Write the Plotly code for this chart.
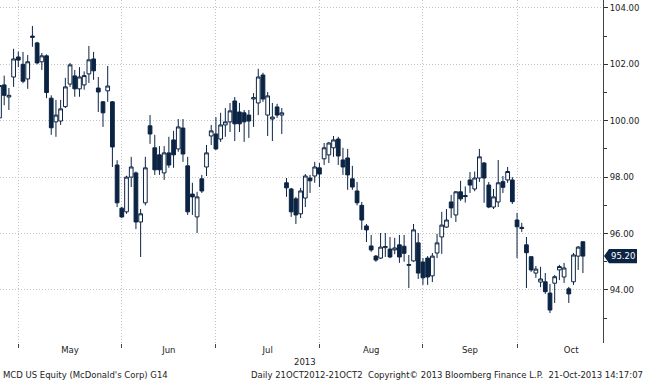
import numpy as np
import pandas as pd
import plotly.graph_objects as go

# ---------------- data ----------------
holidays = ["2013-05-27", "2013-07-04", "2013-09-02"]
calendar = pd.bdate_range("2013-04-25", "2013-10-31")
calendar = calendar[~calendar.isin(pd.to_datetime(holidays))]
dates = calendar[calendar <= "2013-10-21"]

opens = [100.1, 101.27, 100.84, 101.55, 102.26, 102.0, 101.48, 103.0, 102.76, 102.09,
         102.3, 100.8, 99.96, 99.99, 100.5, 101.3, 101.59, 101.13, 101.27, 101.66,
         102.19, 101.16, 100.67, 101.06, 100.67, 98.43, 96.9, 96.77, 98.0, 98.15,
         96.41, 97.09, 99.82, 99.04, 98.79, 98.15, 98.86, 99.32, 99.0, 99.74,
         98.4, 97.4, 96.59, 97.94, 98.36, 99.46, 99.53, 99.35, 99.85, 99.96,
         100.7, 100.31, 100.28, 100.2, 100.77, 100.63, 101.62, 100.2, 100.06, 100.49,
         100.2, 97.8, 97.58, 97.23, 96.7, 97.26, 97.97, 98.04, 98.33, 98.65,
         98.79, 99.04, 99.35, 98.61, 98.68, 97.94, 97.51, 97.0, 96.27, 95.56,
         95.2, 95.13, 95.5, 95.45, 95.42, 95.6, 95.55, 94.9, 95.03, 95.67,
         94.99, 95.13, 94.5, 95.31, 95.88, 96.23, 97.12, 96.66, 97.48, 97.35,
         97.9, 97.58, 97.97, 98.5, 97.72, 96.94, 97.12, 97.84, 97.9, 97.9,
         96.48, 96.22, 95.6, 95.18, 94.6, 94.28, 94.29, 93.89, 94.24, 94.71,
         94.46, 94.04, 94.29, 95.2, 95.71]
highs = [101.3, 101.6, 101.16, 102.55, 102.45, 102.44, 102.33, 103.36, 102.8, 102.4,
         102.35, 100.9, 100.74, 100.74, 101.52, 102.05, 101.8, 101.9, 101.75, 102.65,
         102.44, 101.55, 100.7, 101.94, 100.7, 98.6, 96.95, 98.05, 98.72, 98.2,
         96.87, 98.72, 100.2, 99.5, 99.1, 99.1, 99.43, 99.64, 100.06, 100.06,
         98.72, 97.8, 97.48, 98.08, 99.14, 99.85, 100.13, 100.28, 100.45, 100.63,
         100.84, 100.63, 100.38, 100.38, 100.98, 101.84, 101.7, 101.02, 100.63, 100.6,
         100.45, 97.97, 97.62, 97.3, 97.62, 98.11, 98.08, 98.54, 98.5, 99.21,
         99.25, 99.46, 99.43, 99.04, 99.0, 98.4, 97.83, 97.12, 96.34, 95.95,
         95.24, 96.02, 96.02, 95.88, 95.85, 95.95, 95.95, 95.24, 96.34, 96.02,
         95.13, 95.2, 95.31, 95.99, 96.77, 96.87, 97.37, 97.5, 97.87, 97.67,
         98.18, 98.2, 99.0, 98.54, 97.83, 97.58, 98.61, 98.04, 98.36, 98.0,
         96.73, 96.38, 95.88, 95.2, 94.85, 94.82, 94.6, 94.21, 94.53, 94.89,
         94.96, 94.11, 95.31, 95.56, 95.72]
lows = [100.0, 100.55, 100.38, 101.2, 101.9, 101.33, 101.13, 102.62, 102.0, 101.8,
        100.8, 99.5, 99.43, 99.85, 100.45, 101.2, 100.85, 100.85, 101.1, 101.34,
        101.45, 100.31, 99.78, 100.67, 98.36, 96.94, 96.55, 96.7, 97.65, 96.16,
        95.17, 97.0, 99.18, 98.08, 98.08, 97.9, 98.33, 98.33, 98.9, 98.54,
        96.66, 96.66, 96.02, 97.44, 98.04, 99.14, 98.96, 99.25, 99.43, 99.6,
        99.28, 99.6, 99.25, 99.39, 99.78, 100.2, 100.67, 99.46, 99.28, 100.1,
        99.53, 97.3, 96.59, 96.34, 96.55, 96.94, 97.44, 97.8, 97.65, 98.43,
        98.5, 98.72, 98.43, 98.08, 97.55, 97.55, 97.0, 96.13, 95.7, 95.35,
        95.0, 95.1, 95.17, 95.13, 95.27, 94.96, 95.0, 94.07, 95.0, 94.39,
        94.18, 94.18, 94.28, 95.13, 95.28, 96.2, 96.55, 96.41, 97.16, 97.1,
        97.44, 97.5, 97.83, 97.09, 96.9, 96.87, 96.94, 97.44, 97.8, 97.05,
        95.13, 96.06, 94.07, 94.64, 94.43, 94.1, 93.86, 93.18, 93.54, 94.35,
        94.25, 93.54, 94.18, 94.71, 94.6]
closes = [101.25, 100.9, 100.9, 102.19, 102.15, 101.4, 102.09, 102.96, 102.05, 102.3,
          101.0, 99.75, 100.2, 100.42, 101.2, 101.98, 101.13, 101.55, 101.6, 102.16,
          101.77, 101.02, 100.28, 101.23, 99.07, 97.09, 96.59, 98.0, 98.36, 96.41,
          96.7, 98.33, 99.53, 98.26, 98.26, 98.86, 98.43, 98.79, 99.78, 98.82,
          96.77, 97.3, 97.3, 97.51, 98.86, 99.64, 99.0, 99.85, 99.96, 100.35,
          99.89, 99.89, 99.96, 99.99, 100.82, 101.55, 100.77, 100.88, 100.13, 100.2,
          100.28, 97.62, 96.77, 96.66, 97.51, 98.04, 97.87, 98.36, 98.11, 99.04,
          99.21, 99.32, 98.75, 98.36, 98.08, 97.65, 97.09, 96.48, 96.13, 95.42,
          95.06, 95.52, 95.54, 95.17, 95.49, 95.17, 95.3, 94.88, 96.13, 94.6,
          94.43, 94.46, 95.2, 95.67, 96.3, 96.48, 96.91, 97.48, 97.23, 97.31,
          97.72, 97.97, 98.72, 97.97, 96.94, 97.3, 97.8, 97.64, 98.2, 97.13,
          96.24, 96.18, 95.32, 94.71, 94.74, 94.39, 93.94, 93.29, 94.47, 94.83,
          94.78, 93.86, 95.24, 95.52, 95.2]

last_price = 95.20
y_range = [92.12, 104.28]
x_range = [0.11, 128.27]

# ---------------- derived axis positions ----------------
x = np.arange(len(dates))
month_start = [i for i in range(1, len(calendar)) if calendar[i].month != calendar[i - 1].month]
bounds = month_start + [len(calendar)]
label_pos = [(bounds[k] + bounds[k + 1]) / 2 for k in range(len(month_start))]
month_labels = [calendar[i].strftime("%b") for i in month_start]

NAVY = "#0c2444"
FONT = "DejaVu Sans"
FS = 8.5
GRID = "#c2c2c2"
DOT = "1px,2px"

fig = go.Figure(go.Candlestick(
    x=x, open=opens, high=highs, low=lows, close=closes,
    increasing=dict(line=dict(color=NAVY, width=1), fillcolor="white"),
    decreasing=dict(line=dict(color=NAVY, width=1), fillcolor=NAVY),
    whiskerwidth=0, showlegend=False, hoverinfo="skip",
))

W, H = 645, 380
ml, mr, mt, mb = 0, 42, 0, 37
pw, ph = W - ml - mr, H - mt - mb

def px_x(p):
    return (p - ml) / pw

def px_y(p):
    return (H - mb - p) / ph

def val_y(v):
    return (v - y_range[0]) / (y_range[1] - y_range[0])

fig.update_layout(
    width=W, height=H,
    margin=dict(l=ml, r=mr, t=mt, b=mb),
    paper_bgcolor="white", plot_bgcolor="white",
    boxgap=0.1, boxgroupgap=0.12,
    font=dict(family=FONT, size=FS, color="#222222"),
    xaxis=dict(
        type="linear", range=x_range, rangeslider=dict(visible=False),
        tickmode="array", tickvals=label_pos, ticktext=month_labels,
        ticks="", showgrid=False, zeroline=False, showline=False,
        tickfont=dict(family=FONT, size=FS, color="#222222"),
        minor=dict(tickmode="array", tickvals=month_start, ticks="outside", ticklen=4,
                   tickcolor="#444444", showgrid=True, gridcolor=GRID,
                   griddash=DOT, gridwidth=1),
    ),
    yaxis=dict(
        side="right", range=y_range, tick0=0, dtick=2, tickformat=".2f",
        ticks="outside", ticklen=4, tickcolor="#333333",
        showline=True, linecolor="#444444", linewidth=1,
        showgrid=True, gridcolor=GRID, griddash=DOT, gridwidth=1,
        zeroline=False, automargin=False,
        tickfont=dict(family=FONT, size=FS, color="#222222"),
        minor=dict(dtick=1, ticks="outside", ticklen=3, tickcolor="#333333", showgrid=False),
    ),
)

# last price callout
yc = val_y(last_price)
hh = 0.25 / (y_range[1] - y_range[0])
x0, x1, x2 = px_x(604), px_x(609), px_x(637)
fig.add_shape(type="path", xref="paper", yref="paper",
              path=f"M {x0} {yc} L {x1} {yc + hh} L {x2} {yc + hh} L {x2} {yc - hh} L {x1} {yc - hh} Z",
              fillcolor=NAVY, line=dict(color=NAVY, width=0))
fig.add_annotation(xref="paper", yref="paper", x=px_x(623), y=yc, text=f"{last_price:.2f}",
                   showarrow=False, xanchor="center", yanchor="middle",
                   font=dict(family=FONT, size=FS, color="white"))

# bottom texts
fig.add_annotation(xref="paper", yref="paper", x=px_x(305), y=px_y(362), text="2013",
                   showarrow=False, xanchor="center", yanchor="middle")
fig.add_annotation(xref="paper", yref="paper", x=px_x(1), y=px_y(375),
                   text="MCD US Equity (McDonald's Corp) G14",
                   showarrow=False, xanchor="left", yanchor="middle")
fig.add_annotation(xref="paper", yref="paper", x=px_x(645), y=px_y(375),
                   text="Daily 21OCT2012-21OCT2  Copyright\u00a9 2013 Bloomberg Finance L.P.  21-Oct-2013 14:17:07",
                   showarrow=False, xanchor="right", yanchor="middle")

fig.write_html("out.html", config={"displayModeBar": False},
               post_script="document.body.style.margin='0';document.body.style.padding='0';")
